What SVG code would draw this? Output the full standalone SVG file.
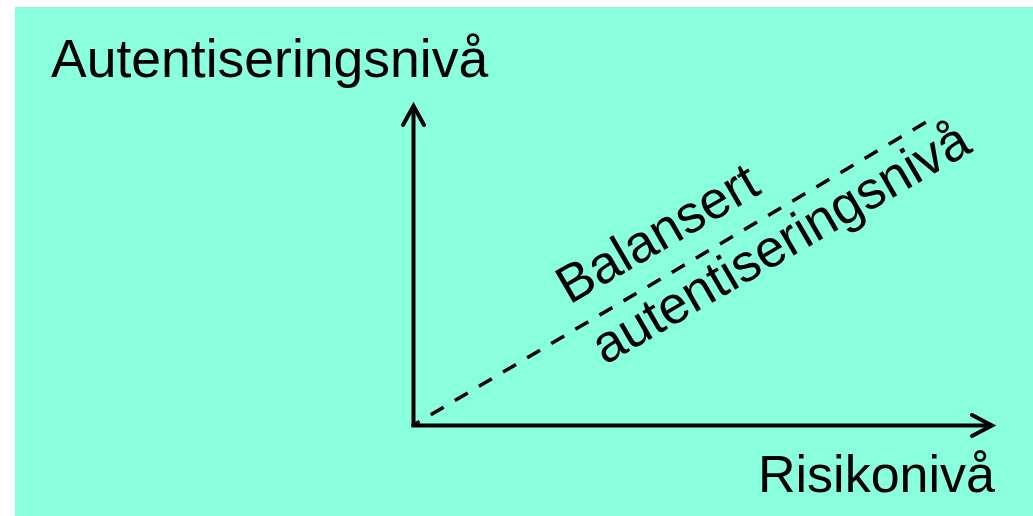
<svg xmlns="http://www.w3.org/2000/svg" width="1033" height="516" viewBox="0 0 1033 516">
  <style>
    .lbl { font-family: "Liberation Sans", Arial, sans-serif; font-size: 53px; fill: #000; }
    .ax { stroke: #000; stroke-width: 4; fill: none; }
    .head { stroke: #000; stroke-width: 4; fill: none; stroke-linecap: round; stroke-linejoin: miter; }
    .dash { stroke: #000; stroke-width: 3.5; fill: none; stroke-dasharray: 15 13; }
  </style>
  <rect x="0" y="0" width="1033" height="516" fill="#ffffff"/>
  <rect id="background" x="15" y="7" width="1018" height="509" fill="#8AFFDE"/>
  <g id="connectors">
    <line class="ax" x1="413.5" y1="427" x2="413.5" y2="107"/>
    <polyline class="head" points="403,125 413.5,106 424,125"/>
    <line class="ax" x1="411.5" y1="425.5" x2="991" y2="425.5"/>
    <polyline class="head" points="972,415 992,425.5 972,436"/>
    <line class="dash" x1="413.5" y1="425" x2="928" y2="121" stroke-dashoffset="8"/>
  </g>
  <g id="y-label">
    <text class="lbl" x="51" y="77" style="font-size:53.5px">Autentiseringsnivå</text>
  </g>
  <g id="x-label">
    <text class="lbl" x="758" y="492" style="font-size:52px">Risikonivå</text>
  </g>
  <g id="diag-label" transform="translate(569.5,305) rotate(-30.2)">
    <text class="lbl" x="0" y="0">Balansert</text>
    <text class="lbl" x="0" y="70">autentiseringsnivå</text>
  </g>
</svg>
